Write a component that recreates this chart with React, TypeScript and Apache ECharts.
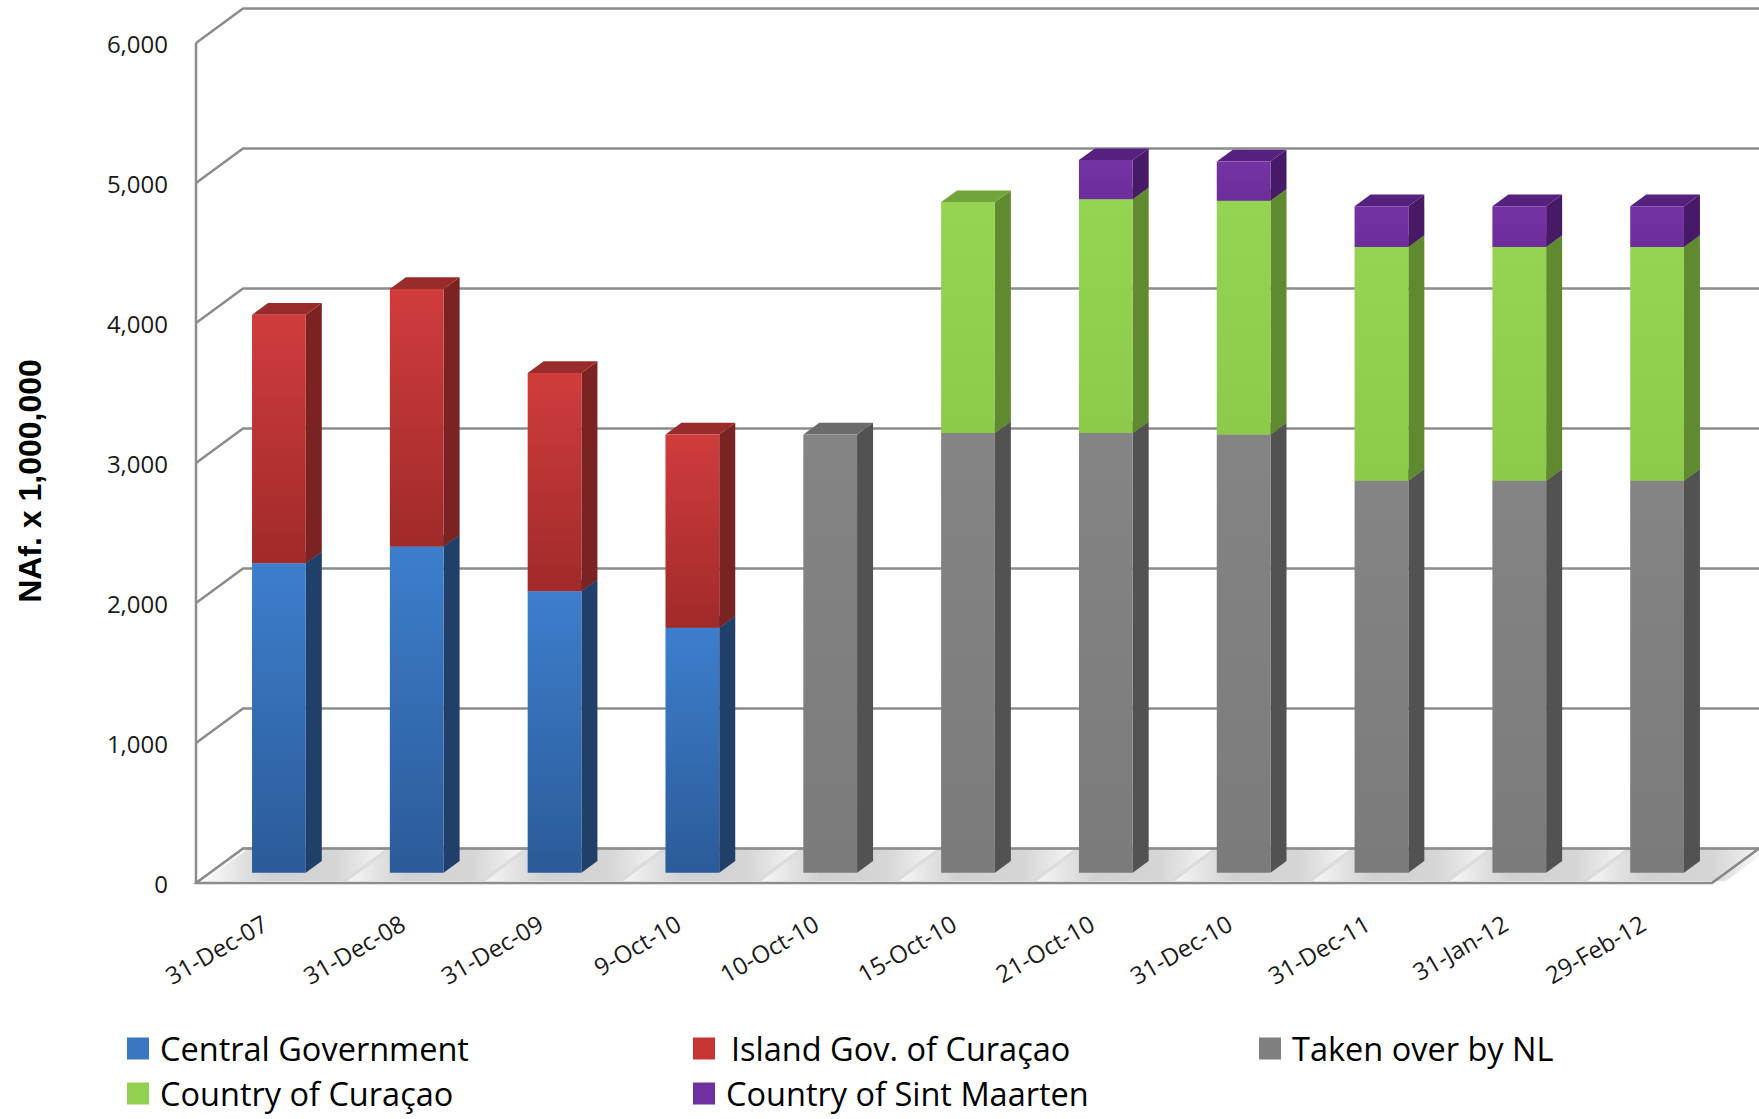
import React, { useEffect, useRef } from "react";
import * as echarts from "echarts";

const categories = [
  "31-Dec-07", "31-Dec-08", "31-Dec-09", "9-Oct-10", "10-Oct-10", "15-Oct-10",
  "21-Oct-10", "31-Dec-10", "31-Dec-11", "31-Jan-12", "29-Feb-12",
];
const centralGovernment = [2210, 2330, 2010, 1750, 0, 0, 0, 0, 0, 0, 0];
const islandGovCuracao = [1775, 1840, 1560, 1380, 0, 0, 0, 0, 0, 0, 0];
const takenOverByNL = [0, 0, 0, 0, 3130, 3140, 3140, 3130, 2800, 2800, 2800];
const countryOfCuracao = [0, 0, 0, 0, 0, 1650, 1670, 1670, 1670, 1670, 1670];
const countryOfSintMaarten = [0, 0, 0, 0, 0, 0, 280, 280, 290, 290, 290];
const yTicks = [0, 1000, 2000, 3000, 4000, 5000, 6000];
const yAxisTitle = "NAf. x 1,000,000";

const seriesDefs = [
  { name: "Central Government", values: centralGovernment, front: ["#3d7ecd", "#2b5b98"], side: "#203f69", top: "#2a5488", legend: "#3a76c2" },
  { name: "Island Gov. of Curaçao", values: islandGovCuracao, front: ["#d03c3c", "#a12a2a"], side: "#7b2222", top: "#9a2b2b", legend: "#c83535" },
  { name: "Taken over by NL", values: takenOverByNL, front: ["#848484", "#7b7b7b"], side: "#525252", top: "#6b6b6b", legend: "#7f7f7f" },
  { name: "Country of Curaçao", values: countryOfCuracao, front: ["#95d453", "#8dca4b"], side: "#5f8a2f", top: "#73a33c", legend: "#92d050" },
  { name: "Country of Sint Maarten", values: countryOfSintMaarten, front: ["#7433a4", "#6c2e9b"], side: "#471a68", top: "#55207e", legend: "#7030a0" },
];

// 3D geometry (pixels)
const DX = 47, DY = -34.5; // full depth offset front -> back wall
const OX = 14, OY = -10.3; // bar plane offset from front plane
const SX = 16, SY = -11.7; // bar depth
const BAR_RATIO = 0.39;

export default function App() {
  const ref = useRef<HTMLDivElement>(null);
  useEffect(() => {
    if (!ref.current) return;
    const chart = echarts.init(ref.current, null, { renderer: "svg" });

    const bases = categories.map(() => 0);
    const barSeries = seriesDefs.map((def) => {
      const data = def.values.map((v, i) => {
        const b = bases[i];
        bases[i] = b + v;
        return [i, b, b + v];
      });
      return {
        type: "custom",
        name: def.name,
        z: 5,
        itemStyle: { color: def.legend },
        encode: { x: 0, y: 2 },
        data,
        renderItem: (params: any, api: any) => {
          const i = api.value(0), b = api.value(1), t = api.value(2);
          if (t - b <= 0) return null;
          const p0 = api.coord([i, b]);
          const p1 = api.coord([i, t]);
          const bw = api.size([1, 0])[0] * BAR_RATIO;
          const x0 = p0[0] - bw / 2 + OX;
          const x1 = x0 + bw;
          const yb = p0[1] + OY;
          const yt = p1[1] + OY;
          return {
            type: "group",
            children: [
              {
                type: "polygon",
                shape: { points: [[x1, yb], [x1 + SX, yb + SY], [x1 + SX, yt + SY], [x1, yt]] },
                style: { fill: def.side },
              },
              {
                type: "polygon",
                shape: { points: [[x0, yt], [x1, yt], [x1 + SX, yt + SY], [x0 + SX, yt + SY]] },
                style: { fill: def.top },
              },
              {
                type: "rect",
                shape: { x: x0, y: yt, width: bw, height: yb - yt },
                style: {
                  fill: new echarts.graphic.LinearGradient(0, 0, 0, 1, [
                    { offset: 0, color: def.front[0] },
                    { offset: 1, color: def.front[1] },
                  ]),
                },
              },
            ],
          };
        },
      };
    });

    const wallSeries = {
      type: "custom",
      name: "walls",
      z: 1,
      silent: true,
      encode: { x: 0, y: 1 },
      data: yTicks.map((v) => [0, v]),
      renderItem: (params: any, api: any) => {
        const v = api.value(1);
        const y = api.coord([0, v])[1];
        const cs = params.coordSys;
        const xl = cs.x, xr = cs.x + cs.width;
        const line = { stroke: "#8c8c8c", lineWidth: 2.5, fill: null };
        const children: any[] = [];
        if (v === 0) {
          children.push({
            type: "polygon",
            shape: { points: [[xl, y], [xr, y], [xr + DX, y + DY], [xl + DX, y + DY]] },
            style: { fill: "#fafafa", stroke: "#a0a0a0", lineWidth: 2 },
          });
          children.push({
            type: "polyline",
            shape: { points: [[xl, cs.y], [xl, y], [xr, y], [xr + DX, y + DY]] },
            style: line,
          });
        }
        children.push({
          type: "polyline",
          shape: { points: [[xl, y], [xl + DX, y + DY], [xr + DX, y + DY]] },
          style: line,
        });
        return { type: "group", children };
      },
    };

    const shadowSeries = {
      type: "custom",
      name: "shadows",
      z: 2,
      silent: true,
      encode: { x: 0, y: 1 },
      data: categories.map((c, i) => [i, 0]),
      renderItem: (params: any, api: any) => {
        const i = api.value(0);
        const p = api.coord([i, 0]);
        const bw = api.size([1, 0])[0] * BAR_RATIO;
        const x0 = p[0] - bw / 2 + OX - 34;
        const x1 = p[0] + bw / 2 + OX + SX + 40;
        const yf = p[1] - 2;
        return {
          type: "polygon",
          shape: { points: [[x0 - 14, yf], [x1 - 14, yf], [x1 + DX - 18, yf + DY + 3], [x0 + DX - 18, yf + DY + 3]] },
          style: {
            fill: new echarts.graphic.LinearGradient(0, 0, 1, 0, [
              { offset: 0, color: "rgba(120,120,120,0)" },
              { offset: 0.35, color: "rgba(120,120,120,0.32)" },
              { offset: 0.7, color: "rgba(120,120,120,0.28)" },
              { offset: 1, color: "rgba(120,120,120,0)" },
            ]),
          },
        };
      },
    };

    const legendBase = {
      icon: "rect",
      itemWidth: 22,
      itemHeight: 22,
      padding: 0,
      selectedMode: false,
      textStyle: { fontFamily: "Open Sans", fontSize: 32.5, color: "#000", padding: [0, 0, 0, 6] },
    };

    chart.setOption({
      animation: false,
      backgroundColor: "#fff",
      grid: { left: 196, top: 43, width: 1516, height: 840, containLabel: false },
      xAxis: {
        type: "category",
        data: categories,
        axisLine: { show: false },
        axisTick: { show: false },
        axisLabel: {
          rotate: 30,
          margin: 38,
          interval: 0,
          fontFamily: "Open Sans",
          fontSize: 24,
          color: "#1a1a1a",
        },
      },
      yAxis: {
        type: "value",
        min: 0,
        max: 6000,
        interval: 1000,
        axisLine: { show: false },
        axisTick: { show: false },
        splitLine: { show: false },
        axisLabel: {
          margin: 28,
          fontFamily: "Open Sans",
          fontSize: 24,
          color: "#1a1a1a",
          padding: [8, 0, 0, 0],
          formatter: (v: number) => v.toLocaleString("en-US"),
        },
      },
      legend: [
        { ...legendBase, data: [seriesDefs[0].name], left: 127, top: 1032 },
        { ...legendBase, data: [seriesDefs[3].name], left: 127, top: 1077 },
        { ...legendBase, data: [seriesDefs[1].name], left: 693, top: 1032, textStyle: { ...legendBase.textStyle, padding: [0, 0, 0, 11] } },
        { ...legendBase, data: [seriesDefs[4].name], left: 693, top: 1077 },
        { ...legendBase, data: [seriesDefs[2].name], left: 1259, top: 1032 },
      ],
      graphic: [
        {
          type: "text",
          x: 30,
          y: 481,
          rotation: Math.PI / 2,
          style: {
            text: yAxisTitle,
            fontFamily: "Liberation Sans, Arial",
            fontWeight: "bold",
            fontSize: 32,
            fill: "#000",
            align: "center",
            verticalAlign: "middle",
          },
        },
      ],
      series: [wallSeries, shadowSeries, ...barSeries],
    });

    return () => chart.dispose();
  }, []);

  return (
    <div
      ref={ref}
      style={{ position: "absolute", left: 0, top: 0, width: 1759, height: 1119 }}
    />
  );
}
